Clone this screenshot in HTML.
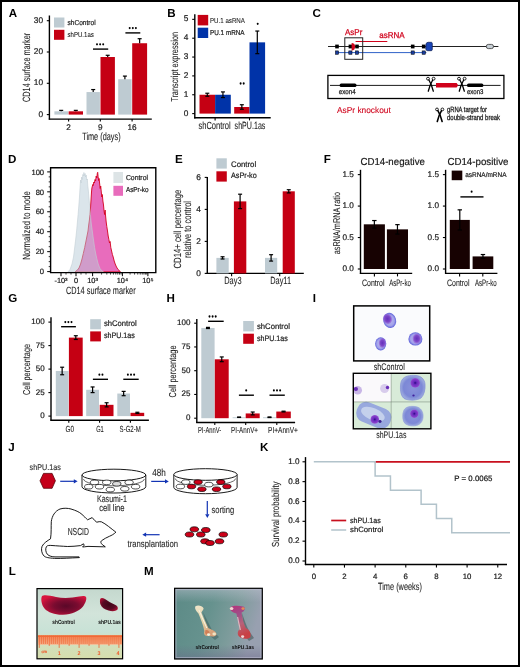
<!DOCTYPE html>
<html><head><meta charset="utf-8"><title>Figure</title>
<style>html,body{margin:0;padding:0;background:#fff;overflow:hidden;}svg{display:block;will-change:transform;}text{text-rendering:geometricPrecision;}</style>
</head><body>
<svg width="520" height="667" viewBox="0 0 520 667" font-family='"Liberation Sans", sans-serif'>
<rect x="0.00" y="0.00" width="520.00" height="667.00" fill="#fff"/>
<text x="8.71" y="16.50" font-size="11.6" fill="#000" font-weight="bold">A</text>
<line x1="49.40" y1="15.50" x2="49.40" y2="119.70" stroke="#000" stroke-width="1.4"/>
<line x1="48.80" y1="119.10" x2="151.80" y2="119.10" stroke="#000" stroke-width="1.4"/>
<line x1="46.80" y1="114.60" x2="49.40" y2="114.60" stroke="#000" stroke-width="1.1"/>
<text x="43.00" y="116.70" font-size="8.3" text-anchor="end" fill="#1a1a1a" stroke="#1a1a1a" stroke-width="0.2">0</text>
<line x1="46.80" y1="83.30" x2="49.40" y2="83.30" stroke="#000" stroke-width="1.1"/>
<text x="43.00" y="85.41" font-size="8.3" text-anchor="end" fill="#1a1a1a" stroke="#1a1a1a" stroke-width="0.2">10</text>
<line x1="46.80" y1="52.00" x2="49.40" y2="52.00" stroke="#000" stroke-width="1.1"/>
<text x="43.00" y="54.11" font-size="8.3" text-anchor="end" fill="#1a1a1a" stroke="#1a1a1a" stroke-width="0.2">20</text>
<line x1="46.80" y1="20.70" x2="49.40" y2="20.70" stroke="#000" stroke-width="1.1"/>
<text x="43.00" y="22.81" font-size="8.3" text-anchor="end" fill="#1a1a1a" stroke="#1a1a1a" stroke-width="0.2">30</text>
<line x1="68.60" y1="119.10" x2="68.60" y2="121.50" stroke="#000" stroke-width="1.1"/>
<text x="68.60" y="129.60" font-size="8.2" text-anchor="middle" fill="#1a1a1a" stroke="#1a1a1a" stroke-width="0.2">2</text>
<line x1="100.30" y1="119.10" x2="100.30" y2="121.50" stroke="#000" stroke-width="1.1"/>
<text x="100.30" y="129.60" font-size="8.2" text-anchor="middle" fill="#1a1a1a" stroke="#1a1a1a" stroke-width="0.2">9</text>
<line x1="132.10" y1="119.10" x2="132.10" y2="121.50" stroke="#000" stroke-width="1.1"/>
<text x="132.10" y="129.60" font-size="8.2" text-anchor="middle" fill="#1a1a1a" stroke="#1a1a1a" stroke-width="0.2">16</text>
<text x="101.40" y="139.60" font-size="10.5" text-anchor="middle" fill="#222" stroke="#222" stroke-width="0.08" textLength="38.4" lengthAdjust="spacingAndGlyphs">Time (days)</text>
<text x="30.00" y="101.90" font-size="10.5" fill="#222" stroke="#222" stroke-width="0.08" textLength="69" lengthAdjust="spacingAndGlyphs" transform="rotate(-90 30.00 101.90)">CD14 surface marker</text>
<rect x="54.40" y="111.31" width="13.60" height="3.29" fill="#BECBD2"/>
<line x1="61.20" y1="111.31" x2="61.20" y2="110.37" stroke="#000" stroke-width="1.2"/>
<line x1="59.20" y1="110.37" x2="63.20" y2="110.37" stroke="#000" stroke-width="1.2"/>
<rect x="68.60" y="111.31" width="14.40" height="3.29" fill="#C50013"/>
<line x1="75.80" y1="111.31" x2="75.80" y2="110.37" stroke="#000" stroke-width="1.2"/>
<line x1="73.80" y1="110.37" x2="77.80" y2="110.37" stroke="#000" stroke-width="1.2"/>
<rect x="86.50" y="92.06" width="13.40" height="22.54" fill="#BECBD2"/>
<line x1="93.20" y1="92.06" x2="93.20" y2="89.56" stroke="#000" stroke-width="1.2"/>
<line x1="91.20" y1="89.56" x2="95.20" y2="89.56" stroke="#000" stroke-width="1.2"/>
<rect x="100.50" y="57.01" width="14.40" height="57.59" fill="#C50013"/>
<line x1="107.70" y1="57.01" x2="107.70" y2="55.29" stroke="#000" stroke-width="1.2"/>
<line x1="105.70" y1="55.29" x2="109.70" y2="55.29" stroke="#000" stroke-width="1.2"/>
<rect x="118.20" y="79.23" width="13.40" height="35.37" fill="#BECBD2"/>
<line x1="124.90" y1="79.23" x2="124.90" y2="76.10" stroke="#000" stroke-width="1.2"/>
<line x1="122.90" y1="76.10" x2="126.90" y2="76.10" stroke="#000" stroke-width="1.2"/>
<rect x="132.20" y="43.24" width="14.90" height="71.36" fill="#C50013"/>
<line x1="139.65" y1="43.24" x2="139.65" y2="38.70" stroke="#000" stroke-width="1.2"/>
<line x1="137.65" y1="38.70" x2="141.65" y2="38.70" stroke="#000" stroke-width="1.2"/>
<rect x="54.00" y="17.50" width="10.40" height="10.00" fill="#BECBD2"/>
<rect x="54.00" y="29.80" width="10.40" height="10.00" fill="#C50013"/>
<text x="67.50" y="24.70" font-size="7.2" fill="#1a1a1a" stroke="#1a1a1a" stroke-width="0.2" textLength="28.1" lengthAdjust="spacingAndGlyphs">shControl</text>
<text x="67.50" y="37.30" font-size="7.2" fill="#1a1a1a" stroke="#1a1a1a" stroke-width="0.08" textLength="26.3" lengthAdjust="spacingAndGlyphs">shPU.1as</text>
<line x1="93.00" y1="49.10" x2="108.20" y2="49.10" stroke="#000" stroke-width="1.4"/>
<ellipse cx="97.00" cy="44.30" rx="1.0" ry="1.15" fill="#000"/>
<ellipse cx="100.10" cy="44.30" rx="1.0" ry="1.15" fill="#000"/>
<ellipse cx="103.20" cy="44.30" rx="1.0" ry="1.15" fill="#000"/>
<line x1="125.40" y1="32.90" x2="140.30" y2="32.90" stroke="#000" stroke-width="1.4"/>
<ellipse cx="129.70" cy="28.10" rx="1.0" ry="1.15" fill="#000"/>
<ellipse cx="132.80" cy="28.10" rx="1.0" ry="1.15" fill="#000"/>
<ellipse cx="135.90" cy="28.10" rx="1.0" ry="1.15" fill="#000"/>
<text x="167.35" y="16.50" font-size="11.6" fill="#000" font-weight="bold">B</text>
<line x1="194.80" y1="14.20" x2="194.80" y2="118.40" stroke="#000" stroke-width="1.4"/>
<line x1="194.20" y1="117.80" x2="270.70" y2="117.80" stroke="#000" stroke-width="1.4"/>
<line x1="192.20" y1="113.60" x2="194.80" y2="113.60" stroke="#000" stroke-width="1.1"/>
<text x="188.40" y="115.70" font-size="8.3" text-anchor="end" fill="#1a1a1a" stroke="#1a1a1a" stroke-width="0.2">0</text>
<line x1="192.20" y1="94.75" x2="194.80" y2="94.75" stroke="#000" stroke-width="1.1"/>
<text x="188.40" y="96.86" font-size="8.3" text-anchor="end" fill="#1a1a1a" stroke="#1a1a1a" stroke-width="0.2">1</text>
<line x1="192.20" y1="75.90" x2="194.80" y2="75.90" stroke="#000" stroke-width="1.1"/>
<text x="188.40" y="78.00" font-size="8.3" text-anchor="end" fill="#1a1a1a" stroke="#1a1a1a" stroke-width="0.2">2</text>
<line x1="192.20" y1="57.05" x2="194.80" y2="57.05" stroke="#000" stroke-width="1.1"/>
<text x="188.40" y="59.15" font-size="8.3" text-anchor="end" fill="#1a1a1a" stroke="#1a1a1a" stroke-width="0.2">3</text>
<line x1="192.20" y1="38.20" x2="194.80" y2="38.20" stroke="#000" stroke-width="1.1"/>
<text x="188.40" y="40.30" font-size="8.3" text-anchor="end" fill="#1a1a1a" stroke="#1a1a1a" stroke-width="0.2">4</text>
<line x1="192.20" y1="19.35" x2="194.80" y2="19.35" stroke="#000" stroke-width="1.1"/>
<text x="188.40" y="21.45" font-size="8.3" text-anchor="end" fill="#1a1a1a" stroke="#1a1a1a" stroke-width="0.2">5</text>
<line x1="215.10" y1="117.80" x2="215.10" y2="120.40" stroke="#000" stroke-width="1.1"/>
<line x1="249.50" y1="117.80" x2="249.50" y2="120.40" stroke="#000" stroke-width="1.1"/>
<text x="214.60" y="128.90" font-size="10.4" text-anchor="middle" fill="#222" stroke="#222" stroke-width="0.08" textLength="32.3" lengthAdjust="spacingAndGlyphs">shControl</text>
<text x="250.00" y="128.90" font-size="10.4" text-anchor="middle" fill="#222" stroke="#222" stroke-width="0.08" textLength="30.8" lengthAdjust="spacingAndGlyphs">shPU.1as</text>
<text x="178.20" y="101.80" font-size="10.0" fill="#222" stroke="#222" stroke-width="0.08" textLength="69.9" lengthAdjust="spacingAndGlyphs" transform="rotate(-90 178.20 101.80)">Transcript expression</text>
<rect x="199.50" y="94.75" width="15.60" height="18.85" fill="#C50013"/>
<line x1="207.30" y1="96.26" x2="207.30" y2="93.24" stroke="#000" stroke-width="1.2"/>
<line x1="205.30" y1="96.26" x2="209.30" y2="96.26" stroke="#000" stroke-width="1.2"/>
<line x1="205.30" y1="93.24" x2="209.30" y2="93.24" stroke="#000" stroke-width="1.2"/>
<rect x="215.10" y="94.75" width="15.70" height="18.85" fill="#0033A8"/>
<line x1="222.95" y1="97.58" x2="222.95" y2="91.92" stroke="#000" stroke-width="1.2"/>
<line x1="220.95" y1="97.58" x2="224.95" y2="97.58" stroke="#000" stroke-width="1.2"/>
<line x1="220.95" y1="91.92" x2="224.95" y2="91.92" stroke="#000" stroke-width="1.2"/>
<rect x="234.20" y="107.00" width="15.30" height="6.60" fill="#C50013"/>
<line x1="241.85" y1="109.26" x2="241.85" y2="104.74" stroke="#000" stroke-width="1.2"/>
<line x1="239.85" y1="109.26" x2="243.85" y2="109.26" stroke="#000" stroke-width="1.2"/>
<line x1="239.85" y1="104.74" x2="243.85" y2="104.74" stroke="#000" stroke-width="1.2"/>
<rect x="249.50" y="42.35" width="15.60" height="71.25" fill="#0033A8"/>
<line x1="257.30" y1="53.66" x2="257.30" y2="31.04" stroke="#000" stroke-width="1.2"/>
<line x1="255.30" y1="53.66" x2="259.30" y2="53.66" stroke="#000" stroke-width="1.2"/>
<line x1="255.30" y1="31.04" x2="259.30" y2="31.04" stroke="#000" stroke-width="1.2"/>
<rect x="197.70" y="14.90" width="10.50" height="10.50" fill="#C50013"/>
<rect x="197.70" y="27.70" width="10.50" height="10.30" fill="#0033A8"/>
<text x="210.00" y="22.60" font-size="7.2" fill="#1a1a1a" stroke="#1a1a1a" stroke-width="0.08" textLength="34.9" lengthAdjust="spacingAndGlyphs">PU.1 asRNA</text>
<text x="210.00" y="35.40" font-size="7.2" fill="#1a1a1a" stroke="#1a1a1a" stroke-width="0.2" textLength="34.6" lengthAdjust="spacingAndGlyphs">PU.1 mRNA</text>
<ellipse cx="240.60" cy="83.50" rx="1.0" ry="1.15" fill="#000"/>
<ellipse cx="243.70" cy="83.50" rx="1.0" ry="1.15" fill="#000"/>
<ellipse cx="257.70" cy="23.80" rx="1.0" ry="1.15" fill="#000"/>
<text x="312.44" y="16.60" font-size="11.6" fill="#000" font-weight="bold">C</text>
<line x1="328.00" y1="46.50" x2="498.40" y2="46.50" stroke="#222" stroke-width="1.0"/>
<line x1="337.00" y1="52.60" x2="426.40" y2="52.60" stroke="#2F62C8" stroke-width="1.0"/>
<rect x="335.20" y="44.60" width="3.60" height="3.80" fill="#000"/>
<rect x="335.40" y="50.90" width="3.20" height="3.40" fill="#1A3C9C" stroke="#000" stroke-width="0.5"/>
<rect x="348.60" y="44.60" width="3.60" height="3.80" fill="#000"/>
<rect x="348.80" y="50.90" width="3.20" height="3.40" fill="#1A3C9C" stroke="#000" stroke-width="0.5"/>
<rect x="355.20" y="44.60" width="3.60" height="3.80" fill="#000"/>
<rect x="355.40" y="50.90" width="3.20" height="3.40" fill="#1A3C9C" stroke="#000" stroke-width="0.5"/>
<rect x="410.90" y="44.60" width="3.60" height="3.80" fill="#000"/>
<rect x="411.10" y="50.90" width="3.20" height="3.40" fill="#1A3C9C" stroke="#000" stroke-width="0.5"/>
<rect x="421.90" y="44.60" width="3.60" height="3.80" fill="#000"/>
<rect x="422.10" y="50.90" width="3.20" height="3.40" fill="#1A3C9C" stroke="#000" stroke-width="0.5"/>
<path d="M426.0,44.0 Q426.3,42.4 428.2,42.3 L431.4,42.3 Q432.3,42.4 432.3,43.6 L432.3,49.6 Q432.2,50.7 431.2,50.7 L427.6,50.7 Q426,50.6 425.8,49.0 Z" fill="#1A45B8" stroke="#0A1A50" stroke-width="0.7"/>
<rect x="486.30" y="44.40" width="7.20" height="4.20" fill="#C8D0D6" stroke="#333" stroke-width="0.8" rx="2"/>
<path d="M351.6,43.0 A3.5,3.7 0 0 1 351.6,50.4 Z" fill="#D0021B"/>
<line x1="355.60" y1="41.50" x2="387.30" y2="41.50" stroke="#D0021B" stroke-width="1.1"/>
<rect x="344.80" y="37.80" width="17.90" height="21.50" fill="none" stroke="#222" stroke-width="1.0"/>
<text x="345.00" y="35.20" font-size="8.4" fill="#D0021B" textLength="17.3" lengthAdjust="spacingAndGlyphs" stroke="#D0021B" stroke-width="0.25">AsPr</text>
<text x="379.20" y="37.80" font-size="8.4" fill="#D0021B" textLength="25.4" lengthAdjust="spacingAndGlyphs" stroke="#D0021B" stroke-width="0.25">asRNA</text>
<rect x="327.90" y="75.40" width="176.00" height="23.10" fill="none" stroke="#000" stroke-width="1.3"/>
<line x1="330.00" y1="85.40" x2="500.60" y2="85.40" stroke="#000" stroke-width="0.9"/>
<rect x="339.60" y="83.60" width="16.90" height="3.50" fill="#000" rx="1.6"/>
<rect x="467.00" y="83.60" width="16.40" height="3.50" fill="#000" rx="1.6"/>
<path d="M436,82.9 L456.6,82.9 L458.2,85.25 L456.6,87.6 L436,87.6 Z" fill="#D0021B"/>
<ellipse cx="428.00" cy="78.70" rx="1.45" ry="1.45" fill="#fff" stroke="#000" stroke-width="0.85"/>
<ellipse cx="433.60" cy="78.70" rx="1.45" ry="1.45" fill="#fff" stroke="#000" stroke-width="0.85"/>
<path d="M428.90,80.00 Q431.40,84.00 433.30,91.20" fill="none" stroke="#000" stroke-width="1.35" stroke-linecap="round"/>
<path d="M432.70,80.00 Q430.20,84.00 428.30,91.20" fill="none" stroke="#000" stroke-width="1.35" stroke-linecap="round"/>
<ellipse cx="459.00" cy="78.70" rx="1.45" ry="1.45" fill="#fff" stroke="#000" stroke-width="0.85"/>
<ellipse cx="464.60" cy="78.70" rx="1.45" ry="1.45" fill="#fff" stroke="#000" stroke-width="0.85"/>
<path d="M459.90,80.00 Q462.40,84.00 464.30,91.20" fill="none" stroke="#000" stroke-width="1.35" stroke-linecap="round"/>
<path d="M463.70,80.00 Q461.20,84.00 459.30,91.20" fill="none" stroke="#000" stroke-width="1.35" stroke-linecap="round"/>
<text x="338.80" y="93.60" font-size="7.0" fill="#222" textLength="16.8" lengthAdjust="spacingAndGlyphs" stroke="#222" stroke-width="0.25">exon4</text>
<text x="466.90" y="93.60" font-size="7.0" fill="#222" textLength="16.5" lengthAdjust="spacingAndGlyphs" stroke="#222" stroke-width="0.25">exon3</text>
<text x="337.00" y="113.00" font-size="8.5" fill="#D0021B" textLength="53.8" lengthAdjust="spacingAndGlyphs" stroke="#D0021B" stroke-width="0.1">AsPr knockout</text>
<ellipse cx="437.00" cy="109.44" rx="1.40" ry="1.40" fill="#fff" stroke="#000" stroke-width="0.85"/>
<ellipse cx="442.40" cy="109.44" rx="1.40" ry="1.40" fill="#fff" stroke="#000" stroke-width="0.85"/>
<path d="M437.87,110.69 Q440.28,114.55 442.11,121.50" fill="none" stroke="#000" stroke-width="1.6" stroke-linecap="round"/>
<path d="M441.53,110.69 Q439.12,114.55 437.29,121.50" fill="none" stroke="#000" stroke-width="1.6" stroke-linecap="round"/>
<text x="447.00" y="111.80" font-size="7.6" fill="#222" textLength="40" lengthAdjust="spacingAndGlyphs" stroke="#222" stroke-width="0.3">gRNA target for</text>
<text x="447.00" y="120.30" font-size="7.6" fill="#222" textLength="53" lengthAdjust="spacingAndGlyphs" stroke="#222" stroke-width="0.3">double-strand break</text>
<text x="8.05" y="162.50" font-size="11.6" fill="#000" font-weight="bold">D</text>
<path d="M75.00,271.80 L77.00,270.50 L79.00,268.00 L80.60,264.00 L82.00,259.00 L83.30,253.50 L84.70,247.50 L86.00,241.00 L87.00,236.00 L88.00,231.00 L88.70,225.00 L89.40,220.00 L90.00,214.50 L90.50,208.00 L90.90,202.00 L91.20,197.00 L91.50,192.00 L91.90,188.00 L92.40,186.00 L92.80,184.50 L93.30,185.50 L93.80,182.00 L94.40,183.00 L95.00,179.50 L95.60,181.00 L96.20,176.00 L96.80,178.00 L97.30,173.50 L97.70,172.30 L98.10,176.50 L98.60,180.50 L99.10,178.50 L99.70,184.00 L100.20,188.50 L100.70,186.00 L101.30,192.00 L101.80,197.00 L102.30,194.50 L102.90,201.00 L103.50,205.00 L104.00,210.50 L104.60,214.50 L105.10,210.00 L105.60,216.00 L106.20,222.00 L106.80,226.50 L107.50,231.00 L108.20,236.00 L108.90,239.50 L109.50,243.00 L110.10,241.50 L110.80,247.50 L111.60,251.00 L112.40,254.50 L113.20,257.00 L114.20,261.00 L115.20,264.00 L116.50,267.00 L118.00,269.50 L120.50,271.80 Z" fill="#E86CBC" stroke="#D4001E" stroke-width="0.9" stroke-linejoin="round"/>
<path d="M68.00,271.80 L70.00,269.50 L72.00,264.00 L73.50,257.00 L74.50,249.00 L75.60,240.00 L76.60,231.00 L77.40,222.00 L78.10,214.50 L78.80,206.00 L79.40,198.00 L79.90,190.00 L80.30,184.00 L80.60,180.00 L81.20,183.00 L81.60,177.00 L82.30,179.50 L82.80,174.50 L83.40,176.00 L83.90,172.50 L84.50,175.50 L85.10,173.50 L85.60,177.00 L86.20,175.00 L86.80,180.00 L87.30,179.00 L87.80,186.00 L88.30,190.00 L88.80,196.00 L89.30,202.00 L89.80,208.00 L90.40,214.50 L91.00,221.00 L91.60,226.00 L92.30,231.00 L93.10,237.00 L93.80,242.00 L94.60,247.50 L95.60,253.00 L96.80,258.50 L98.20,264.00 L100.00,268.50 L102.00,271.00 L103.50,271.80 Z" fill="#B8CCD8" fill-opacity="0.5"/>
<path d="M68.00,271.80 L70.00,269.50 L72.00,264.00 L73.50,257.00 L74.50,249.00 L75.60,240.00 L76.60,231.00 L77.40,222.00 L78.10,214.50 L78.80,206.00 L79.40,198.00 L79.90,190.00 L80.30,184.00 L80.60,180.00 L81.20,183.00 L81.60,177.00 L82.30,179.50 L82.80,174.50 L83.40,176.00 L83.90,172.50 L84.50,175.50 L85.10,173.50 L85.60,177.00 L86.20,175.00 L86.80,180.00 L87.30,179.00 L87.80,186.00 L88.30,190.00 L88.80,196.00 L89.30,202.00 L89.80,208.00 L90.40,214.50 L91.00,221.00 L91.60,226.00 L92.30,231.00 L93.10,237.00 L93.80,242.00 L94.60,247.50 L95.60,253.00 L96.80,258.50 L98.20,264.00 L100.00,268.50 L102.00,271.00 L103.50,271.80 Z" fill="none" stroke="#C2CFD5" stroke-width="0.6"/>
<path d="M50.6,167.8 L155.8,167.8 L155.8,272.6 L50.6,272.6 Z" fill="none" stroke="#000" stroke-width="1.4"/>
<line x1="47.20" y1="271.60" x2="50.60" y2="271.60" stroke="#000" stroke-width="1.0"/>
<text x="44.10" y="274.30" font-size="7.6" text-anchor="end" fill="#1a1a1a" stroke="#1a1a1a" stroke-width="0.2">0</text>
<line x1="48.70" y1="266.62" x2="50.60" y2="266.62" stroke="#000" stroke-width="0.8"/>
<line x1="48.70" y1="261.63" x2="50.60" y2="261.63" stroke="#000" stroke-width="0.8"/>
<line x1="48.70" y1="256.65" x2="50.60" y2="256.65" stroke="#000" stroke-width="0.8"/>
<line x1="47.20" y1="251.66" x2="50.60" y2="251.66" stroke="#000" stroke-width="1.0"/>
<text x="44.10" y="254.36" font-size="7.6" text-anchor="end" fill="#1a1a1a" stroke="#1a1a1a" stroke-width="0.2">20</text>
<line x1="48.70" y1="246.68" x2="50.60" y2="246.68" stroke="#000" stroke-width="0.8"/>
<line x1="48.70" y1="241.69" x2="50.60" y2="241.69" stroke="#000" stroke-width="0.8"/>
<line x1="48.70" y1="236.71" x2="50.60" y2="236.71" stroke="#000" stroke-width="0.8"/>
<line x1="47.20" y1="231.72" x2="50.60" y2="231.72" stroke="#000" stroke-width="1.0"/>
<text x="44.10" y="234.42" font-size="7.6" text-anchor="end" fill="#1a1a1a" stroke="#1a1a1a" stroke-width="0.2">40</text>
<line x1="48.70" y1="226.74" x2="50.60" y2="226.74" stroke="#000" stroke-width="0.8"/>
<line x1="48.70" y1="221.75" x2="50.60" y2="221.75" stroke="#000" stroke-width="0.8"/>
<line x1="48.70" y1="216.77" x2="50.60" y2="216.77" stroke="#000" stroke-width="0.8"/>
<line x1="47.20" y1="211.78" x2="50.60" y2="211.78" stroke="#000" stroke-width="1.0"/>
<text x="44.10" y="214.48" font-size="7.6" text-anchor="end" fill="#1a1a1a" stroke="#1a1a1a" stroke-width="0.2">60</text>
<line x1="48.70" y1="206.80" x2="50.60" y2="206.80" stroke="#000" stroke-width="0.8"/>
<line x1="48.70" y1="201.81" x2="50.60" y2="201.81" stroke="#000" stroke-width="0.8"/>
<line x1="48.70" y1="196.83" x2="50.60" y2="196.83" stroke="#000" stroke-width="0.8"/>
<line x1="47.20" y1="191.84" x2="50.60" y2="191.84" stroke="#000" stroke-width="1.0"/>
<text x="44.10" y="194.54" font-size="7.6" text-anchor="end" fill="#1a1a1a" stroke="#1a1a1a" stroke-width="0.2">80</text>
<line x1="48.70" y1="186.86" x2="50.60" y2="186.86" stroke="#000" stroke-width="0.8"/>
<line x1="48.70" y1="181.87" x2="50.60" y2="181.87" stroke="#000" stroke-width="0.8"/>
<line x1="48.70" y1="176.89" x2="50.60" y2="176.89" stroke="#000" stroke-width="0.8"/>
<line x1="47.20" y1="171.90" x2="50.60" y2="171.90" stroke="#000" stroke-width="1.0"/>
<text x="44.10" y="174.60" font-size="7.6" text-anchor="end" fill="#1a1a1a" stroke="#1a1a1a" stroke-width="0.2">100</text>
<line x1="61.00" y1="272.60" x2="61.00" y2="276.20" stroke="#000" stroke-width="1.0"/>
<line x1="76.00" y1="272.60" x2="76.00" y2="276.20" stroke="#000" stroke-width="1.0"/>
<line x1="92.60" y1="272.60" x2="92.60" y2="276.20" stroke="#000" stroke-width="1.0"/>
<line x1="122.40" y1="272.60" x2="122.40" y2="276.20" stroke="#000" stroke-width="1.0"/>
<line x1="147.90" y1="272.60" x2="147.90" y2="276.20" stroke="#000" stroke-width="1.0"/>
<line x1="101.57" y1="272.60" x2="101.57" y2="274.60" stroke="#000" stroke-width="0.7"/>
<line x1="106.82" y1="272.60" x2="106.82" y2="274.60" stroke="#000" stroke-width="0.7"/>
<line x1="110.54" y1="272.60" x2="110.54" y2="274.60" stroke="#000" stroke-width="0.7"/>
<line x1="113.43" y1="272.60" x2="113.43" y2="274.60" stroke="#000" stroke-width="0.7"/>
<line x1="115.79" y1="272.60" x2="115.79" y2="274.60" stroke="#000" stroke-width="0.7"/>
<line x1="117.78" y1="272.60" x2="117.78" y2="274.60" stroke="#000" stroke-width="0.7"/>
<line x1="119.51" y1="272.60" x2="119.51" y2="274.60" stroke="#000" stroke-width="0.7"/>
<line x1="121.04" y1="272.60" x2="121.04" y2="274.60" stroke="#000" stroke-width="0.7"/>
<line x1="130.08" y1="272.60" x2="130.08" y2="274.60" stroke="#000" stroke-width="0.7"/>
<line x1="134.57" y1="272.60" x2="134.57" y2="274.60" stroke="#000" stroke-width="0.7"/>
<line x1="137.75" y1="272.60" x2="137.75" y2="274.60" stroke="#000" stroke-width="0.7"/>
<line x1="140.22" y1="272.60" x2="140.22" y2="274.60" stroke="#000" stroke-width="0.7"/>
<line x1="142.24" y1="272.60" x2="142.24" y2="274.60" stroke="#000" stroke-width="0.7"/>
<line x1="143.95" y1="272.60" x2="143.95" y2="274.60" stroke="#000" stroke-width="0.7"/>
<line x1="145.43" y1="272.60" x2="145.43" y2="274.60" stroke="#000" stroke-width="0.7"/>
<line x1="146.73" y1="272.60" x2="146.73" y2="274.60" stroke="#000" stroke-width="0.7"/>
<line x1="66.00" y1="272.60" x2="66.00" y2="274.60" stroke="#000" stroke-width="0.7"/>
<line x1="71.00" y1="272.60" x2="71.00" y2="274.60" stroke="#000" stroke-width="0.7"/>
<line x1="81.00" y1="272.60" x2="81.00" y2="274.60" stroke="#000" stroke-width="0.7"/>
<line x1="86.00" y1="272.60" x2="86.00" y2="274.60" stroke="#000" stroke-width="0.7"/>
<text x="61.00" y="282.80" font-size="7.4" text-anchor="middle" fill="#1a1a1a" stroke="#1a1a1a" stroke-width="0.2">-10³</text>
<text x="76.00" y="282.80" font-size="7.4" text-anchor="middle" fill="#1a1a1a" stroke="#1a1a1a" stroke-width="0.2">0</text>
<text x="92.60" y="282.80" font-size="7.4" text-anchor="middle" fill="#1a1a1a" stroke="#1a1a1a" stroke-width="0.2">10³</text>
<text x="122.40" y="282.80" font-size="7.4" text-anchor="middle" fill="#1a1a1a" stroke="#1a1a1a" stroke-width="0.2">10⁴</text>
<text x="147.90" y="282.80" font-size="7.4" text-anchor="middle" fill="#1a1a1a" stroke="#1a1a1a" stroke-width="0.2">10⁵</text>
<text x="100.80" y="293.60" font-size="10.5" text-anchor="middle" fill="#222" stroke="#222" stroke-width="0.08" textLength="69.7" lengthAdjust="spacingAndGlyphs">CD14 surface marker</text>
<text x="30.00" y="259.80" font-size="10.4" fill="#222" stroke="#222" stroke-width="0.08" textLength="68.5" lengthAdjust="spacingAndGlyphs" transform="rotate(-90 30.00 259.80)">Normalized to mode</text>
<rect x="113.40" y="172.00" width="9.60" height="11.00" fill="#DDE4E6"/>
<rect x="113.40" y="185.80" width="9.60" height="10.00" fill="#E86CBC"/>
<text x="125.90" y="180.30" font-size="7.2" fill="#1a1a1a" stroke="#1a1a1a" stroke-width="0.2" textLength="22.1" lengthAdjust="spacingAndGlyphs">Control</text>
<text x="125.90" y="192.00" font-size="7.2" fill="#1a1a1a" stroke="#1a1a1a" stroke-width="0.2" textLength="22.6" lengthAdjust="spacingAndGlyphs">AsPr-ko</text>
<text x="174.95" y="162.80" font-size="11.6" fill="#000" font-weight="bold">E</text>
<line x1="207.30" y1="177.00" x2="207.30" y2="274.00" stroke="#000" stroke-width="1.4"/>
<line x1="206.70" y1="273.40" x2="303.80" y2="273.40" stroke="#000" stroke-width="1.4"/>
<line x1="204.70" y1="273.40" x2="207.30" y2="273.40" stroke="#000" stroke-width="1.1"/>
<text x="200.90" y="275.50" font-size="8.3" text-anchor="end" fill="#1a1a1a" stroke="#1a1a1a" stroke-width="0.2">0</text>
<line x1="204.70" y1="241.40" x2="207.30" y2="241.40" stroke="#000" stroke-width="1.1"/>
<text x="200.90" y="243.50" font-size="8.3" text-anchor="end" fill="#1a1a1a" stroke="#1a1a1a" stroke-width="0.2">2</text>
<line x1="204.70" y1="209.40" x2="207.30" y2="209.40" stroke="#000" stroke-width="1.1"/>
<text x="200.90" y="211.50" font-size="8.3" text-anchor="end" fill="#1a1a1a" stroke="#1a1a1a" stroke-width="0.2">4</text>
<line x1="204.70" y1="177.40" x2="207.30" y2="177.40" stroke="#000" stroke-width="1.1"/>
<text x="200.90" y="179.50" font-size="8.3" text-anchor="end" fill="#1a1a1a" stroke="#1a1a1a" stroke-width="0.2">6</text>
<line x1="231.60" y1="273.40" x2="231.60" y2="276.20" stroke="#000" stroke-width="1.1"/>
<line x1="279.70" y1="273.40" x2="279.70" y2="276.20" stroke="#000" stroke-width="1.1"/>
<text x="232.90" y="284.10" font-size="10.4" text-anchor="middle" fill="#222" stroke="#222" stroke-width="0.08" textLength="17.3" lengthAdjust="spacingAndGlyphs">Day3</text>
<text x="280.60" y="284.10" font-size="10.4" text-anchor="middle" fill="#222" stroke="#222" stroke-width="0.08" textLength="20.8" lengthAdjust="spacingAndGlyphs">Day11</text>
<text x="180.50" y="268.50" font-size="10.4" fill="#222" stroke="#222" stroke-width="0.08" textLength="78.8" lengthAdjust="spacingAndGlyphs" transform="rotate(-90 180.50 268.50)">CD14+ cell percentage</text>
<text x="190.70" y="258.00" font-size="10.4" fill="#222" stroke="#222" stroke-width="0.08" textLength="57" lengthAdjust="spacingAndGlyphs" transform="rotate(-90 190.70 258.00)">relative to control</text>
<rect x="216.40" y="257.88" width="12.30" height="15.52" fill="#BECBD2"/>
<line x1="222.55" y1="259.00" x2="222.55" y2="256.76" stroke="#000" stroke-width="1.2"/>
<line x1="220.55" y1="259.00" x2="224.55" y2="259.00" stroke="#000" stroke-width="1.2"/>
<line x1="220.55" y1="256.76" x2="224.55" y2="256.76" stroke="#000" stroke-width="1.2"/>
<rect x="233.90" y="201.40" width="12.40" height="72.00" fill="#C50013"/>
<line x1="240.10" y1="208.60" x2="240.10" y2="194.20" stroke="#000" stroke-width="1.2"/>
<line x1="238.10" y1="208.60" x2="242.10" y2="208.60" stroke="#000" stroke-width="1.2"/>
<line x1="238.10" y1="194.20" x2="242.10" y2="194.20" stroke="#000" stroke-width="1.2"/>
<rect x="265.00" y="257.88" width="12.20" height="15.52" fill="#BECBD2"/>
<line x1="271.10" y1="261.08" x2="271.10" y2="254.68" stroke="#000" stroke-width="1.2"/>
<line x1="269.10" y1="261.08" x2="273.10" y2="261.08" stroke="#000" stroke-width="1.2"/>
<line x1="269.10" y1="254.68" x2="273.10" y2="254.68" stroke="#000" stroke-width="1.2"/>
<rect x="282.70" y="191.32" width="12.10" height="82.08" fill="#C50013"/>
<line x1="288.75" y1="192.92" x2="288.75" y2="189.72" stroke="#000" stroke-width="1.2"/>
<line x1="286.75" y1="192.92" x2="290.75" y2="192.92" stroke="#000" stroke-width="1.2"/>
<line x1="286.75" y1="189.72" x2="290.75" y2="189.72" stroke="#000" stroke-width="1.2"/>
<rect x="216.40" y="158.30" width="10.40" height="10.30" fill="#BECBD2"/>
<rect x="216.40" y="171.30" width="10.40" height="10.30" fill="#C50013"/>
<text x="231.00" y="166.50" font-size="8.0" fill="#1a1a1a" stroke="#1a1a1a" stroke-width="0.2" textLength="25.2" lengthAdjust="spacingAndGlyphs">Control</text>
<text x="231.00" y="177.90" font-size="8.0" fill="#1a1a1a" stroke="#1a1a1a" stroke-width="0.2" textLength="25.7" lengthAdjust="spacingAndGlyphs">AsPr-ko</text>
<text x="323.75" y="162.80" font-size="11.6" fill="#000" font-weight="bold">F</text>
<line x1="360.50" y1="169.80" x2="360.50" y2="274.00" stroke="#000" stroke-width="1.4"/>
<line x1="359.90" y1="273.40" x2="412.20" y2="273.40" stroke="#000" stroke-width="1.4"/>
<line x1="357.80" y1="269.00" x2="360.50" y2="269.00" stroke="#000" stroke-width="1.1"/>
<text x="353.90" y="271.07" font-size="8.2" text-anchor="end" fill="#1a1a1a" stroke="#1a1a1a" stroke-width="0.2">0.0</text>
<line x1="357.80" y1="237.53" x2="360.50" y2="237.53" stroke="#000" stroke-width="1.1"/>
<text x="353.90" y="239.60" font-size="8.2" text-anchor="end" fill="#1a1a1a" stroke="#1a1a1a" stroke-width="0.2">0.5</text>
<line x1="357.80" y1="206.07" x2="360.50" y2="206.07" stroke="#000" stroke-width="1.1"/>
<text x="353.90" y="208.14" font-size="8.2" text-anchor="end" fill="#1a1a1a" stroke="#1a1a1a" stroke-width="0.2">1.0</text>
<line x1="357.80" y1="174.61" x2="360.50" y2="174.61" stroke="#000" stroke-width="1.1"/>
<text x="353.90" y="176.68" font-size="8.2" text-anchor="end" fill="#1a1a1a" stroke="#1a1a1a" stroke-width="0.2">1.5</text>
<line x1="374.40" y1="273.40" x2="374.40" y2="276.40" stroke="#000" stroke-width="1.1"/>
<line x1="397.50" y1="273.40" x2="397.50" y2="276.40" stroke="#000" stroke-width="1.1"/>
<text x="373.30" y="285.60" font-size="9.4" text-anchor="middle" fill="#222" stroke="#222" stroke-width="0.08" textLength="22.4" lengthAdjust="spacingAndGlyphs">Control</text>
<text x="400.00" y="285.60" font-size="9.4" text-anchor="middle" fill="#222" stroke="#222" stroke-width="0.08" textLength="21.7" lengthAdjust="spacingAndGlyphs">AsPr-ko</text>
<rect x="363.80" y="224.32" width="21.10" height="44.68" fill="#170202"/>
<line x1="374.35" y1="228.10" x2="374.35" y2="220.54" stroke="#000" stroke-width="1.2"/>
<line x1="372.15" y1="228.10" x2="376.55" y2="228.10" stroke="#000" stroke-width="1.2"/>
<line x1="372.15" y1="220.54" x2="376.55" y2="220.54" stroke="#000" stroke-width="1.2"/>
<rect x="386.90" y="229.35" width="21.10" height="39.65" fill="#170202"/>
<line x1="397.45" y1="234.07" x2="397.45" y2="224.63" stroke="#000" stroke-width="1.2"/>
<line x1="395.25" y1="234.07" x2="399.65" y2="234.07" stroke="#000" stroke-width="1.2"/>
<line x1="395.25" y1="224.63" x2="399.65" y2="224.63" stroke="#000" stroke-width="1.2"/>
<text x="360.40" y="164.60" font-size="10.2" fill="#1a1a1a" stroke="#1a1a1a" stroke-width="0.2" textLength="64.6" lengthAdjust="spacingAndGlyphs">CD14-negative</text>
<line x1="445.60" y1="169.80" x2="445.60" y2="274.00" stroke="#000" stroke-width="1.4"/>
<line x1="445.00" y1="273.40" x2="497.40" y2="273.40" stroke="#000" stroke-width="1.4"/>
<line x1="442.90" y1="269.00" x2="445.60" y2="269.00" stroke="#000" stroke-width="1.1"/>
<text x="439.00" y="271.07" font-size="8.2" text-anchor="end" fill="#1a1a1a" stroke="#1a1a1a" stroke-width="0.2">0.0</text>
<line x1="442.90" y1="237.53" x2="445.60" y2="237.53" stroke="#000" stroke-width="1.1"/>
<text x="439.00" y="239.60" font-size="8.2" text-anchor="end" fill="#1a1a1a" stroke="#1a1a1a" stroke-width="0.2">0.5</text>
<line x1="442.90" y1="206.07" x2="445.60" y2="206.07" stroke="#000" stroke-width="1.1"/>
<text x="439.00" y="208.14" font-size="8.2" text-anchor="end" fill="#1a1a1a" stroke="#1a1a1a" stroke-width="0.2">1.0</text>
<line x1="442.90" y1="174.61" x2="445.60" y2="174.61" stroke="#000" stroke-width="1.1"/>
<text x="439.00" y="176.68" font-size="8.2" text-anchor="end" fill="#1a1a1a" stroke="#1a1a1a" stroke-width="0.2">1.5</text>
<line x1="459.60" y1="273.40" x2="459.60" y2="276.40" stroke="#000" stroke-width="1.1"/>
<line x1="482.80" y1="273.40" x2="482.80" y2="276.40" stroke="#000" stroke-width="1.1"/>
<text x="458.30" y="285.60" font-size="9.4" text-anchor="middle" fill="#222" stroke="#222" stroke-width="0.08" textLength="22.4" lengthAdjust="spacingAndGlyphs">Control</text>
<text x="485.80" y="285.60" font-size="9.4" text-anchor="middle" fill="#222" stroke="#222" stroke-width="0.08" textLength="21.7" lengthAdjust="spacingAndGlyphs">AsPr-ko</text>
<rect x="449.80" y="219.91" width="20.00" height="49.09" fill="#170202"/>
<line x1="459.80" y1="229.98" x2="459.80" y2="209.85" stroke="#000" stroke-width="1.2"/>
<line x1="457.60" y1="229.98" x2="462.00" y2="229.98" stroke="#000" stroke-width="1.2"/>
<line x1="457.60" y1="209.85" x2="462.00" y2="209.85" stroke="#000" stroke-width="1.2"/>
<rect x="472.60" y="256.41" width="20.70" height="12.59" fill="#170202"/>
<line x1="482.95" y1="258.30" x2="482.95" y2="254.53" stroke="#000" stroke-width="1.2"/>
<line x1="480.75" y1="258.30" x2="485.15" y2="258.30" stroke="#000" stroke-width="1.2"/>
<line x1="480.75" y1="254.53" x2="485.15" y2="254.53" stroke="#000" stroke-width="1.2"/>
<text x="447.40" y="164.60" font-size="10.2" fill="#1a1a1a" stroke="#1a1a1a" stroke-width="0.2" textLength="61.1" lengthAdjust="spacingAndGlyphs">CD14-positive</text>
<text x="340.00" y="254.20" font-size="9.8" fill="#222" stroke="#222" stroke-width="0.08" textLength="62.2" lengthAdjust="spacingAndGlyphs" transform="rotate(-90 340.00 254.20)">asRNA/mRNA ratio</text>
<rect x="451.70" y="170.60" width="10.60" height="9.60" fill="#170202"/>
<text x="465.20" y="177.30" font-size="6.9" fill="#1a1a1a" stroke="#1a1a1a" stroke-width="0.2" textLength="41.3" lengthAdjust="spacingAndGlyphs">asRNA/mRNA</text>
<line x1="460.40" y1="196.90" x2="483.50" y2="196.90" stroke="#000" stroke-width="1.4"/>
<ellipse cx="471.60" cy="191.70" rx="1.0" ry="1.15" fill="#000"/>
<text x="8.34" y="302.40" font-size="11.6" fill="#000" font-weight="bold">G</text>
<line x1="51.00" y1="317.20" x2="51.00" y2="420.80" stroke="#000" stroke-width="1.4"/>
<line x1="50.40" y1="420.20" x2="148.90" y2="420.20" stroke="#000" stroke-width="1.4"/>
<line x1="48.40" y1="416.10" x2="51.00" y2="416.10" stroke="#000" stroke-width="1.1"/>
<text x="44.60" y="418.10" font-size="8.0" text-anchor="end" fill="#1a1a1a" stroke="#1a1a1a" stroke-width="0.2">0</text>
<line x1="48.40" y1="392.60" x2="51.00" y2="392.60" stroke="#000" stroke-width="1.1"/>
<text x="44.60" y="394.60" font-size="8.0" text-anchor="end" fill="#1a1a1a" stroke="#1a1a1a" stroke-width="0.2">25</text>
<line x1="48.40" y1="369.10" x2="51.00" y2="369.10" stroke="#000" stroke-width="1.1"/>
<text x="44.60" y="371.10" font-size="8.0" text-anchor="end" fill="#1a1a1a" stroke="#1a1a1a" stroke-width="0.2">50</text>
<line x1="48.40" y1="345.60" x2="51.00" y2="345.60" stroke="#000" stroke-width="1.1"/>
<text x="44.60" y="347.60" font-size="8.0" text-anchor="end" fill="#1a1a1a" stroke="#1a1a1a" stroke-width="0.2">75</text>
<line x1="48.40" y1="322.10" x2="51.00" y2="322.10" stroke="#000" stroke-width="1.1"/>
<text x="44.60" y="324.10" font-size="8.0" text-anchor="end" fill="#1a1a1a" stroke="#1a1a1a" stroke-width="0.2">100</text>
<line x1="68.80" y1="420.20" x2="68.80" y2="422.80" stroke="#000" stroke-width="1.1"/>
<text x="69.70" y="431.50" font-size="8.8" text-anchor="middle" fill="#222" stroke="#222" stroke-width="0.08" textLength="8.6" lengthAdjust="spacingAndGlyphs">G0</text>
<line x1="99.60" y1="420.20" x2="99.60" y2="422.80" stroke="#000" stroke-width="1.1"/>
<text x="100.00" y="431.50" font-size="8.8" text-anchor="middle" fill="#222" stroke="#222" stroke-width="0.08" textLength="7.6" lengthAdjust="spacingAndGlyphs">G1</text>
<line x1="130.40" y1="420.20" x2="130.40" y2="422.80" stroke="#000" stroke-width="1.1"/>
<text x="130.20" y="431.50" font-size="8.8" text-anchor="middle" fill="#222" stroke="#222" stroke-width="0.08" textLength="21.2" lengthAdjust="spacingAndGlyphs">S-G2-M</text>
<text x="30.20" y="395.00" font-size="10.0" fill="#222" stroke="#222" stroke-width="0.08" textLength="51.0" lengthAdjust="spacingAndGlyphs" transform="rotate(-90 30.20 395.00)">Cell percentage</text>
<rect x="55.80" y="370.98" width="12.70" height="45.12" fill="#BECBD2"/>
<line x1="62.15" y1="374.74" x2="62.15" y2="367.22" stroke="#000" stroke-width="1.2"/>
<line x1="60.15" y1="374.74" x2="64.15" y2="374.74" stroke="#000" stroke-width="1.2"/>
<line x1="60.15" y1="367.22" x2="64.15" y2="367.22" stroke="#000" stroke-width="1.2"/>
<rect x="68.90" y="337.61" width="13.80" height="78.49" fill="#C50013"/>
<line x1="75.80" y1="339.49" x2="75.80" y2="335.73" stroke="#000" stroke-width="1.2"/>
<line x1="73.80" y1="339.49" x2="77.80" y2="339.49" stroke="#000" stroke-width="1.2"/>
<line x1="73.80" y1="335.73" x2="77.80" y2="335.73" stroke="#000" stroke-width="1.2"/>
<rect x="86.20" y="389.78" width="12.80" height="26.32" fill="#BECBD2"/>
<line x1="92.60" y1="392.60" x2="92.60" y2="386.96" stroke="#000" stroke-width="1.2"/>
<line x1="90.60" y1="392.60" x2="94.60" y2="392.60" stroke="#000" stroke-width="1.2"/>
<line x1="90.60" y1="386.96" x2="94.60" y2="386.96" stroke="#000" stroke-width="1.2"/>
<rect x="99.70" y="404.82" width="13.80" height="11.28" fill="#C50013"/>
<line x1="106.60" y1="406.89" x2="106.60" y2="402.75" stroke="#000" stroke-width="1.2"/>
<line x1="104.60" y1="406.89" x2="108.60" y2="406.89" stroke="#000" stroke-width="1.2"/>
<line x1="104.60" y1="402.75" x2="108.60" y2="402.75" stroke="#000" stroke-width="1.2"/>
<rect x="117.30" y="393.54" width="12.70" height="22.56" fill="#BECBD2"/>
<line x1="123.65" y1="395.70" x2="123.65" y2="391.38" stroke="#000" stroke-width="1.2"/>
<line x1="121.65" y1="395.70" x2="125.65" y2="395.70" stroke="#000" stroke-width="1.2"/>
<line x1="121.65" y1="391.38" x2="125.65" y2="391.38" stroke="#000" stroke-width="1.2"/>
<rect x="130.50" y="412.81" width="13.70" height="3.29" fill="#C50013"/>
<line x1="137.35" y1="413.37" x2="137.35" y2="412.25" stroke="#000" stroke-width="1.2"/>
<line x1="135.35" y1="413.37" x2="139.35" y2="413.37" stroke="#000" stroke-width="1.2"/>
<line x1="135.35" y1="412.25" x2="139.35" y2="412.25" stroke="#000" stroke-width="1.2"/>
<rect x="90.20" y="319.20" width="10.70" height="10.10" fill="#BECBD2"/>
<rect x="90.20" y="331.40" width="10.70" height="10.00" fill="#C50013"/>
<text x="104.00" y="326.40" font-size="8.0" fill="#1a1a1a" stroke="#1a1a1a" stroke-width="0.2" textLength="32.7" lengthAdjust="spacingAndGlyphs">shControl</text>
<text x="104.00" y="338.30" font-size="8.0" fill="#1a1a1a" stroke="#1a1a1a" stroke-width="0.2" textLength="30.8" lengthAdjust="spacingAndGlyphs">shPU.1as</text>
<line x1="61.10" y1="326.70" x2="75.90" y2="326.70" stroke="#000" stroke-width="1.4"/>
<ellipse cx="65.30" cy="322.10" rx="1.0" ry="1.15" fill="#000"/>
<ellipse cx="68.40" cy="322.10" rx="1.0" ry="1.15" fill="#000"/>
<ellipse cx="71.50" cy="322.10" rx="1.0" ry="1.15" fill="#000"/>
<line x1="92.90" y1="379.30" x2="108.00" y2="379.30" stroke="#000" stroke-width="1.4"/>
<ellipse cx="99.35" cy="374.70" rx="1.0" ry="1.15" fill="#000"/>
<ellipse cx="102.45" cy="374.70" rx="1.0" ry="1.15" fill="#000"/>
<line x1="123.30" y1="379.30" x2="138.70" y2="379.30" stroke="#000" stroke-width="1.4"/>
<ellipse cx="127.90" cy="374.70" rx="1.0" ry="1.15" fill="#000"/>
<ellipse cx="131.00" cy="374.70" rx="1.0" ry="1.15" fill="#000"/>
<ellipse cx="134.10" cy="374.70" rx="1.0" ry="1.15" fill="#000"/>
<text x="166.45" y="302.40" font-size="11.6" fill="#000" font-weight="bold">H</text>
<line x1="196.80" y1="319.10" x2="196.80" y2="423.00" stroke="#000" stroke-width="1.4"/>
<line x1="196.20" y1="422.50" x2="295.10" y2="422.50" stroke="#000" stroke-width="1.4"/>
<line x1="194.20" y1="418.20" x2="196.80" y2="418.20" stroke="#000" stroke-width="1.1"/>
<text x="190.40" y="420.20" font-size="8.0" text-anchor="end" fill="#1a1a1a" stroke="#1a1a1a" stroke-width="0.2">0</text>
<line x1="194.20" y1="394.45" x2="196.80" y2="394.45" stroke="#000" stroke-width="1.1"/>
<text x="190.40" y="396.45" font-size="8.0" text-anchor="end" fill="#1a1a1a" stroke="#1a1a1a" stroke-width="0.2">25</text>
<line x1="194.20" y1="370.70" x2="196.80" y2="370.70" stroke="#000" stroke-width="1.1"/>
<text x="190.40" y="372.70" font-size="8.0" text-anchor="end" fill="#1a1a1a" stroke="#1a1a1a" stroke-width="0.2">50</text>
<line x1="194.20" y1="346.95" x2="196.80" y2="346.95" stroke="#000" stroke-width="1.1"/>
<text x="190.40" y="348.95" font-size="8.0" text-anchor="end" fill="#1a1a1a" stroke="#1a1a1a" stroke-width="0.2">75</text>
<line x1="194.20" y1="323.20" x2="196.80" y2="323.20" stroke="#000" stroke-width="1.1"/>
<text x="190.40" y="325.20" font-size="8.0" text-anchor="end" fill="#1a1a1a" stroke="#1a1a1a" stroke-width="0.2">100</text>
<line x1="214.80" y1="422.50" x2="214.80" y2="425.00" stroke="#000" stroke-width="1.1"/>
<text x="209.60" y="433.20" font-size="8.8" text-anchor="middle" fill="#222" stroke="#222" stroke-width="0.08" textLength="23.2" lengthAdjust="spacingAndGlyphs">PI-AnnV-</text>
<line x1="245.70" y1="422.50" x2="245.70" y2="425.00" stroke="#000" stroke-width="1.1"/>
<text x="244.50" y="433.20" font-size="8.8" text-anchor="middle" fill="#222" stroke="#222" stroke-width="0.08" textLength="26.9" lengthAdjust="spacingAndGlyphs">PI-AnnV+</text>
<line x1="276.80" y1="422.50" x2="276.80" y2="425.00" stroke="#000" stroke-width="1.1"/>
<text x="283.00" y="433.20" font-size="8.8" text-anchor="middle" fill="#222" stroke="#222" stroke-width="0.08" textLength="29.9" lengthAdjust="spacingAndGlyphs">PI+AnnV+</text>
<text x="176.20" y="397.40" font-size="10.0" fill="#222" stroke="#222" stroke-width="0.08" textLength="52.0" lengthAdjust="spacingAndGlyphs" transform="rotate(-90 176.20 397.40)">Cell percentage</text>
<rect x="201.30" y="327.95" width="13.30" height="90.25" fill="#BECBD2"/>
<line x1="207.95" y1="328.52" x2="207.95" y2="327.38" stroke="#000" stroke-width="1.2"/>
<line x1="205.95" y1="328.52" x2="209.95" y2="328.52" stroke="#000" stroke-width="1.2"/>
<line x1="205.95" y1="327.38" x2="209.95" y2="327.38" stroke="#000" stroke-width="1.2"/>
<rect x="214.80" y="359.30" width="13.90" height="58.90" fill="#C50013"/>
<line x1="221.75" y1="361.68" x2="221.75" y2="356.93" stroke="#000" stroke-width="1.2"/>
<line x1="219.75" y1="361.68" x2="223.75" y2="361.68" stroke="#000" stroke-width="1.2"/>
<line x1="219.75" y1="356.93" x2="223.75" y2="356.93" stroke="#000" stroke-width="1.2"/>
<rect x="232.60" y="417.25" width="13.00" height="0.95" fill="#BECBD2"/>
<line x1="239.10" y1="417.44" x2="239.10" y2="417.06" stroke="#000" stroke-width="1.2"/>
<line x1="237.10" y1="417.44" x2="241.10" y2="417.44" stroke="#000" stroke-width="1.2"/>
<line x1="237.10" y1="417.06" x2="241.10" y2="417.06" stroke="#000" stroke-width="1.2"/>
<rect x="245.70" y="413.45" width="14.00" height="4.75" fill="#C50013"/>
<line x1="252.70" y1="414.88" x2="252.70" y2="412.02" stroke="#000" stroke-width="1.2"/>
<line x1="250.70" y1="414.88" x2="254.70" y2="414.88" stroke="#000" stroke-width="1.2"/>
<line x1="250.70" y1="412.02" x2="254.70" y2="412.02" stroke="#000" stroke-width="1.2"/>
<rect x="263.00" y="417.25" width="13.00" height="0.95" fill="#BECBD2"/>
<line x1="269.50" y1="417.53" x2="269.50" y2="416.96" stroke="#000" stroke-width="1.2"/>
<line x1="267.50" y1="417.53" x2="271.50" y2="417.53" stroke="#000" stroke-width="1.2"/>
<line x1="267.50" y1="416.96" x2="271.50" y2="416.96" stroke="#000" stroke-width="1.2"/>
<rect x="276.30" y="411.55" width="14.50" height="6.65" fill="#C50013"/>
<line x1="283.55" y1="411.93" x2="283.55" y2="411.17" stroke="#000" stroke-width="1.2"/>
<line x1="281.55" y1="411.93" x2="285.55" y2="411.93" stroke="#000" stroke-width="1.2"/>
<line x1="281.55" y1="411.17" x2="285.55" y2="411.17" stroke="#000" stroke-width="1.2"/>
<rect x="243.20" y="321.00" width="10.70" height="10.40" fill="#BECBD2"/>
<rect x="243.20" y="333.70" width="10.70" height="10.10" fill="#C50013"/>
<text x="257.00" y="328.60" font-size="8.0" fill="#1a1a1a" stroke="#1a1a1a" stroke-width="0.2" textLength="32.9" lengthAdjust="spacingAndGlyphs">shControl</text>
<text x="257.00" y="340.60" font-size="8.0" fill="#1a1a1a" stroke="#1a1a1a" stroke-width="0.2" textLength="30.8" lengthAdjust="spacingAndGlyphs">shPU.1as</text>
<line x1="208.10" y1="321.30" x2="223.70" y2="321.30" stroke="#000" stroke-width="1.4"/>
<ellipse cx="209.50" cy="316.50" rx="1.0" ry="1.15" fill="#000"/>
<ellipse cx="212.60" cy="316.50" rx="1.0" ry="1.15" fill="#000"/>
<ellipse cx="215.70" cy="316.50" rx="1.0" ry="1.15" fill="#000"/>
<line x1="238.90" y1="395.20" x2="253.90" y2="395.20" stroke="#000" stroke-width="1.4"/>
<ellipse cx="246.20" cy="390.40" rx="1.0" ry="1.15" fill="#000"/>
<line x1="269.50" y1="395.20" x2="284.80" y2="395.20" stroke="#000" stroke-width="1.4"/>
<ellipse cx="273.90" cy="390.40" rx="1.0" ry="1.15" fill="#000"/>
<ellipse cx="277.00" cy="390.40" rx="1.0" ry="1.15" fill="#000"/>
<ellipse cx="280.10" cy="390.40" rx="1.0" ry="1.15" fill="#000"/>
<text x="312.85" y="302.40" font-size="11.6" fill="#000" font-weight="bold">I</text>
<defs>
<radialGradient id="cyto" cx="0.5" cy="0.5" r="0.5"><stop offset="0" stop-color="#BCBAF0"/><stop offset="0.7" stop-color="#A2A2EA"/><stop offset="1" stop-color="#5E62DA"/></radialGradient>
<radialGradient id="nuc" cx="0.5" cy="0.5" r="0.5"><stop offset="0" stop-color="#5A24B4"/><stop offset="0.6" stop-color="#7A3CC6"/><stop offset="1" stop-color="#9466D6" stop-opacity="0.5"/></radialGradient>
<radialGradient id="nuc2" cx="0.5" cy="0.5" r="0.5"><stop offset="0" stop-color="#2A0A80"/><stop offset="0.35" stop-color="#6A2ABE"/><stop offset="0.85" stop-color="#8A40CC"/><stop offset="1" stop-color="#9A60D4"/></radialGradient>
<radialGradient id="bigc" cx="0.5" cy="0.5" r="0.5"><stop offset="0" stop-color="#8A92DA"/><stop offset="0.75" stop-color="#7C88D6"/><stop offset="1" stop-color="#9AA8DE"/></radialGradient>
</defs>
<rect x="355.20" y="307.50" width="73.10" height="51.90" fill="#FAFBFD"/>
<g transform="rotate(-15 389.7 320.4)">
<ellipse cx="389.70" cy="320.40" rx="6.40" ry="7.70" fill="url(#cyto)"/>
<ellipse cx="388.00" cy="318.40" rx="4.60" ry="5.30" fill="url(#nuc)" opacity="0.9"/>
</g>
<g transform="rotate(0 380.7 343.8)">
<ellipse cx="380.70" cy="343.80" rx="5.60" ry="6.60" fill="url(#cyto)"/>
<ellipse cx="382.40" cy="343.00" rx="3.60" ry="5.00" fill="url(#nuc)" opacity="0.9"/>
</g>
<g transform="rotate(0 415.4 338.9)">
<ellipse cx="415.40" cy="338.90" rx="7.00" ry="6.70" fill="url(#cyto)"/>
<ellipse cx="416.80" cy="338.60" rx="4.30" ry="5.20" fill="url(#nuc)" opacity="0.9"/>
</g>
<rect x="353.70" y="305.90" width="76.00" height="55.00" fill="none" stroke="#000" stroke-width="1.5"/>
<text x="389.20" y="369.50" font-size="9.6" text-anchor="middle" fill="#222" stroke="#222" stroke-width="0.08" textLength="31.1" lengthAdjust="spacingAndGlyphs">shControl</text>
<rect x="353.30" y="373.30" width="37.90" height="28.60" fill="#FAF9FB"/>
<rect x="391.20" y="373.30" width="39.70" height="28.60" fill="#D8EBD8"/>
<rect x="353.30" y="401.90" width="37.90" height="26.90" fill="#D8EBD8"/>
<rect x="391.20" y="401.90" width="39.70" height="26.90" fill="#DAEDDB"/>
<ellipse cx="357.70" cy="390.30" rx="4.30" ry="4.30" fill="#C8B6E6"/>
<ellipse cx="355.90" cy="389.00" rx="2.10" ry="2.10" fill="#6A2FB8"/>
<ellipse cx="384.60" cy="388.50" rx="4.50" ry="4.50" fill="#D8CCEC"/>
<ellipse cx="387.50" cy="387.50" rx="1.70" ry="1.70" fill="#6A2FB8"/>
<path d="M402,380 C404,376 410,375 416,375.5 C421,376 424.5,379 425,384 C425.5,390 424,395 421,398 C417,400.5 410,400.8 405,399 C401,397 400.2,391 400.5,386 C400.7,383 401,381.5 402,380 Z" fill="url(#bigc)" stroke="#7C88D6" stroke-width="0.9" stroke-opacity="0.7"/>
<ellipse cx="415.20" cy="382.90" rx="4.80" ry="4.80" fill="url(#nuc2)"/>
<ellipse cx="413.50" cy="395.50" rx="1.20" ry="1.00" fill="#40209A"/>
<g transform="rotate(22 373.8 415.3)">
<rect x="356.00" y="405.00" width="35.60" height="20.60" fill="#98A8DE" rx="9"/>
<ellipse cx="372.50" cy="414.50" rx="12.50" ry="6.00" fill="#C4D0EC"/>
</g>
<ellipse cx="374.80" cy="419.40" rx="4.30" ry="4.30" fill="url(#nuc2)"/>
<ellipse cx="380.00" cy="421.50" rx="1.60" ry="1.40" fill="#3A2090"/>
<path d="M404,410 C406,406.5 411,406 415,406.5 C419.5,407 422.5,410 423,414.5 C423.5,419 422,423 418,425 C414,426.5 408,426 405,423.5 C402.5,421 402.5,416 403,413 Z" fill="url(#bigc)" stroke="#8C98DA" stroke-width="0.8" stroke-opacity="0.7"/>
<ellipse cx="414.30" cy="413.70" rx="4.20" ry="4.20" fill="url(#nuc2)"/>
<line x1="391.20" y1="373.30" x2="391.20" y2="428.80" stroke="#6A7A6A" stroke-width="0.5"/>
<line x1="353.30" y1="401.90" x2="430.90" y2="401.90" stroke="#6A7A6A" stroke-width="0.5"/>
<rect x="353.30" y="373.30" width="77.60" height="55.50" fill="none" stroke="#000" stroke-width="1.4"/>
<text x="391.30" y="437.80" font-size="9.6" text-anchor="middle" fill="#222" stroke="#222" stroke-width="0.08" textLength="30.2" lengthAdjust="spacingAndGlyphs">shPU.1as</text>
<text x="8.33" y="450.50" font-size="11.6" fill="#000" font-weight="bold">J</text>
<text x="29.60" y="469.60" font-size="8.3" fill="#2a2a2a" textLength="31.2" lengthAdjust="spacingAndGlyphs" stroke="#2a2a2a" stroke-width="0.12">shPU.1as</text>
<path d="M40.0,480.8 L43.5,473.4 L52.1,473.4 L55.4,480.8 L52.1,488.3 L43.5,488.3 Z" fill="#C4001A" stroke="#5A0008" stroke-width="0.8"/>
<line x1="60.20" y1="481.30" x2="74.10" y2="481.30" stroke="#1234B4" stroke-width="1.2"/>
<path d="M77.60,481.30 L73.80,483.40 L73.80,479.20 Z" fill="#1234B4"/>
<line x1="151.20" y1="481.40" x2="165.30" y2="481.40" stroke="#1234B4" stroke-width="1.2"/>
<path d="M168.80,481.40 L165.00,483.50 L165.00,479.30 Z" fill="#1234B4"/>
<line x1="207.30" y1="501.10" x2="207.30" y2="514.60" stroke="#1234B4" stroke-width="1.2"/>
<path d="M207.30,518.10 L205.20,514.30 L209.40,514.30 Z" fill="#1234B4"/>
<line x1="159.60" y1="534.70" x2="145.80" y2="534.70" stroke="#1234B4" stroke-width="1.2"/>
<path d="M142.30,534.70 L146.10,532.60 L146.10,536.80 Z" fill="#1234B4"/>
<path d="M82.0,475.0 L82.0,486.7 A31.900000000000006,6.3 0 0 0 145.8,486.7 L145.8,475.0" fill="#fff" stroke="#000" stroke-width="0.9"/>
<ellipse cx="113.90" cy="475.00" rx="31.90" ry="5.80" fill="#fff" stroke="#000" stroke-width="0.9"/>
<path d="M83.5,479.0 A30.400000000000006,6.8 0 0 0 144.3,479.0" fill="none" stroke="#000" stroke-width="0.6"/>
<ellipse cx="94.50" cy="482.40" rx="4.20" ry="2.30" fill="#fff" stroke="#000" stroke-width="0.7"/>
<ellipse cx="106.70" cy="482.40" rx="4.20" ry="2.30" fill="#fff" stroke="#000" stroke-width="0.7"/>
<ellipse cx="116.80" cy="483.80" rx="4.20" ry="2.30" fill="#ddd" stroke="#000" stroke-width="0.7"/>
<ellipse cx="129.10" cy="482.40" rx="4.20" ry="2.30" fill="#fff" stroke="#000" stroke-width="0.7"/>
<ellipse cx="88.70" cy="486.70" rx="4.20" ry="2.30" fill="#fff" stroke="#000" stroke-width="0.7"/>
<ellipse cx="99.50" cy="486.70" rx="4.20" ry="2.30" fill="#fff" stroke="#000" stroke-width="0.7"/>
<ellipse cx="110.30" cy="489.60" rx="4.20" ry="2.30" fill="#fff" stroke="#000" stroke-width="0.7"/>
<ellipse cx="124.80" cy="488.80" rx="4.20" ry="2.30" fill="#fff" stroke="#000" stroke-width="0.7"/>
<ellipse cx="135.60" cy="486.70" rx="4.20" ry="2.30" fill="#fff" stroke="#000" stroke-width="0.7"/>
<path d="M173.8,474.5 L173.8,487.4 A31.64999999999999,6.3 0 0 0 237.1,487.4 L237.1,474.5" fill="#fff" stroke="#000" stroke-width="0.9"/>
<ellipse cx="205.45" cy="474.50" rx="31.65" ry="5.80" fill="#fff" stroke="#000" stroke-width="0.9"/>
<path d="M175.3,478.5 A30.14999999999999,6.8 0 0 0 235.6,478.5" fill="none" stroke="#000" stroke-width="0.6"/>
<ellipse cx="185.80" cy="482.10" rx="4.20" ry="2.30" fill="#fff" stroke="#000" stroke-width="0.7"/>
<ellipse cx="180.40" cy="486.50" rx="4.20" ry="2.30" fill="#fff" stroke="#000" stroke-width="0.7"/>
<ellipse cx="208.80" cy="484.60" rx="4.20" ry="2.30" fill="#fff" stroke="#000" stroke-width="0.7"/>
<ellipse cx="198.10" cy="482.10" rx="4.20" ry="2.30" fill="#CC0018" stroke="#000" stroke-width="0.7"/>
<ellipse cx="220.80" cy="482.10" rx="4.20" ry="2.30" fill="#CC0018" stroke="#000" stroke-width="0.7"/>
<ellipse cx="191.50" cy="486.50" rx="4.20" ry="2.30" fill="#CC0018" stroke="#000" stroke-width="0.7"/>
<ellipse cx="201.90" cy="489.20" rx="4.20" ry="2.30" fill="#CC0018" stroke="#000" stroke-width="0.7"/>
<ellipse cx="216.50" cy="489.20" rx="4.20" ry="2.30" fill="#CC0018" stroke="#000" stroke-width="0.7"/>
<ellipse cx="226.90" cy="486.50" rx="4.20" ry="2.30" fill="#CC0018" stroke="#000" stroke-width="0.7"/>
<text x="111.90" y="501.80" font-size="9.6" text-anchor="middle" fill="#2a2a2a" textLength="30" lengthAdjust="spacingAndGlyphs" stroke="#2a2a2a" stroke-width="0.12">Kasumi-1</text>
<text x="111.90" y="511.20" font-size="9.6" text-anchor="middle" fill="#2a2a2a" textLength="25.4" lengthAdjust="spacingAndGlyphs" stroke="#2a2a2a" stroke-width="0.12">cell line</text>
<text x="152.20" y="476.30" font-size="10.2" fill="#2a2a2a" textLength="13.6" lengthAdjust="spacingAndGlyphs" stroke="#2a2a2a" stroke-width="0.12">48h</text>
<text x="211.40" y="512.60" font-size="9.6" fill="#2a2a2a" textLength="22.8" lengthAdjust="spacingAndGlyphs" stroke="#2a2a2a" stroke-width="0.12">sorting</text>
<text x="127.50" y="546.50" font-size="9.7" fill="#2a2a2a" textLength="50.6" lengthAdjust="spacingAndGlyphs" stroke="#2a2a2a" stroke-width="0.12">transplantation</text>
<ellipse cx="194.30" cy="529.30" rx="4.30" ry="2.50" fill="#CC0018" stroke="#000" stroke-width="0.7"/>
<ellipse cx="205.80" cy="530.00" rx="4.30" ry="2.50" fill="#CC0018" stroke="#000" stroke-width="0.7"/>
<ellipse cx="189.50" cy="534.50" rx="4.30" ry="2.50" fill="#CC0018" stroke="#000" stroke-width="0.7"/>
<ellipse cx="200.80" cy="534.50" rx="4.30" ry="2.50" fill="#CC0018" stroke="#000" stroke-width="0.7"/>
<ellipse cx="223.30" cy="534.50" rx="4.30" ry="2.50" fill="#CC0018" stroke="#000" stroke-width="0.7"/>
<ellipse cx="205.00" cy="541.30" rx="4.30" ry="2.50" fill="#CC0018" stroke="#000" stroke-width="0.7"/>
<ellipse cx="210.00" cy="543.00" rx="4.30" ry="2.50" fill="#CC0018" stroke="#000" stroke-width="0.7"/>
<ellipse cx="219.50" cy="541.30" rx="4.30" ry="2.50" fill="#CC0018" stroke="#000" stroke-width="0.7"/>
<path d="M50.5,538.8 C51.5,533 51,526 51.3,521.6 C52,516 55,511 60,509 C64,507.8 68,508.2 71,509 C76,510.5 79,512 81,513.6 C84,516 86,518.5 87.6,519.8 L92.2,517.6 L94.8,520.6 L96.8,522.2 C98.5,521.6 100,521.5 101.4,521.8 C106,524 111,528.5 115.9,532.2 C114,534 111.5,535.5 109.4,536.3 C106.5,537.5 104,539 102,540.4 C100.8,541.2 100.5,542 101.2,543.3 L102.5,544.8 L105.3,546.8 L103.5,546.8 L88,546.4 L84.6,546.8 L82.6,547 L84.2,545.2 L83.5,543.8 L80.5,545.6 C76,546 72,546.6 67.7,546.5 C62,546.2 56,545.8 52,545.5 C49.5,545.3 47.5,545.3 46.5,546.5 C45.2,548.5 45.6,552 47.3,554.3 C49.5,556.3 52,556.8 55,556.9 L79.1,556.9 L79.4,557.6 C70,558 62,558.6 54.6,558.4 C49,558 45.5,557.5 44,556 C41.5,553.5 41,549 42,546.5 C43.5,543 47.5,540.8 50.5,538.8 Z" fill="#fff" stroke="#000" stroke-width="0.9" stroke-linejoin="round"/>
<text x="67.70" y="534.90" font-size="10.2" fill="#2a2a2a" textLength="21.2" lengthAdjust="spacingAndGlyphs" stroke="#2a2a2a" stroke-width="0.12">NSCID</text>
<text x="260.05" y="451.00" font-size="11.6" fill="#000" font-weight="bold">K</text>
<line x1="305.50" y1="457.10" x2="305.50" y2="565.10" stroke="#000" stroke-width="1.4"/>
<line x1="304.90" y1="564.50" x2="507.00" y2="564.50" stroke="#000" stroke-width="1.4"/>
<line x1="302.50" y1="561.00" x2="305.50" y2="561.00" stroke="#000" stroke-width="1.1"/>
<text x="299.50" y="563.04" font-size="8.1" text-anchor="end" fill="#1a1a1a" stroke="#1a1a1a" stroke-width="0.2">0.0</text>
<line x1="302.50" y1="541.16" x2="305.50" y2="541.16" stroke="#000" stroke-width="1.1"/>
<text x="299.50" y="543.20" font-size="8.1" text-anchor="end" fill="#1a1a1a" stroke="#1a1a1a" stroke-width="0.2">0.2</text>
<line x1="302.50" y1="521.32" x2="305.50" y2="521.32" stroke="#000" stroke-width="1.1"/>
<text x="299.50" y="523.36" font-size="8.1" text-anchor="end" fill="#1a1a1a" stroke="#1a1a1a" stroke-width="0.2">0.4</text>
<line x1="302.50" y1="501.48" x2="305.50" y2="501.48" stroke="#000" stroke-width="1.1"/>
<text x="299.50" y="503.51" font-size="8.1" text-anchor="end" fill="#1a1a1a" stroke="#1a1a1a" stroke-width="0.2">0.6</text>
<line x1="302.50" y1="481.64" x2="305.50" y2="481.64" stroke="#000" stroke-width="1.1"/>
<text x="299.50" y="483.67" font-size="8.1" text-anchor="end" fill="#1a1a1a" stroke="#1a1a1a" stroke-width="0.2">0.8</text>
<line x1="302.50" y1="461.80" x2="305.50" y2="461.80" stroke="#000" stroke-width="1.1"/>
<text x="299.50" y="463.83" font-size="8.1" text-anchor="end" fill="#1a1a1a" stroke="#1a1a1a" stroke-width="0.2">1.0</text>
<line x1="313.80" y1="564.50" x2="313.80" y2="567.60" stroke="#000" stroke-width="1.1"/>
<text x="313.80" y="578.60" font-size="7.8" text-anchor="middle" fill="#1a1a1a" stroke="#1a1a1a" stroke-width="0.2">0</text>
<line x1="344.46" y1="564.50" x2="344.46" y2="567.60" stroke="#000" stroke-width="1.1"/>
<text x="344.46" y="578.60" font-size="7.8" text-anchor="middle" fill="#1a1a1a" stroke="#1a1a1a" stroke-width="0.2">2</text>
<line x1="375.12" y1="564.50" x2="375.12" y2="567.60" stroke="#000" stroke-width="1.1"/>
<text x="375.12" y="578.60" font-size="7.8" text-anchor="middle" fill="#1a1a1a" stroke="#1a1a1a" stroke-width="0.2">4</text>
<line x1="405.78" y1="564.50" x2="405.78" y2="567.60" stroke="#000" stroke-width="1.1"/>
<text x="405.78" y="578.60" font-size="7.8" text-anchor="middle" fill="#1a1a1a" stroke="#1a1a1a" stroke-width="0.2">6</text>
<line x1="436.44" y1="564.50" x2="436.44" y2="567.60" stroke="#000" stroke-width="1.1"/>
<text x="436.44" y="578.60" font-size="7.8" text-anchor="middle" fill="#1a1a1a" stroke="#1a1a1a" stroke-width="0.2">8</text>
<line x1="467.10" y1="564.50" x2="467.10" y2="567.60" stroke="#000" stroke-width="1.1"/>
<text x="467.10" y="578.60" font-size="7.8" text-anchor="middle" fill="#1a1a1a" stroke="#1a1a1a" stroke-width="0.2">10</text>
<line x1="497.76" y1="564.50" x2="497.76" y2="567.60" stroke="#000" stroke-width="1.1"/>
<text x="497.76" y="578.60" font-size="7.8" text-anchor="middle" fill="#1a1a1a" stroke="#1a1a1a" stroke-width="0.2">12</text>
<text x="378.00" y="589.90" font-size="10.4" fill="#222" stroke="#222" stroke-width="0.08" textLength="43.9" lengthAdjust="spacingAndGlyphs">Time (weeks)</text>
<text x="279.30" y="547.00" font-size="10.2" fill="#222" stroke="#222" stroke-width="0.08" textLength="65.5" lengthAdjust="spacingAndGlyphs" transform="rotate(-90 279.30 547.00)">Survival probability</text>
<line x1="374.62" y1="461.80" x2="510.02" y2="461.80" stroke="#C8101E" stroke-width="1.7"/>
<path d="M313.80,461.80 L375.12,461.80 L375.12,475.99 L390.45,475.99 L390.45,490.17 L421.11,490.17 L421.11,504.36 L436.44,504.36 L436.44,518.44 L451.77,518.44 L451.77,532.63 L510.02,532.63" fill="none" stroke="#B2C3CB" stroke-width="1.5"/>
<line x1="331.20" y1="520.50" x2="346.20" y2="520.50" stroke="#C8101E" stroke-width="1.7"/>
<line x1="331.20" y1="530.00" x2="346.20" y2="530.00" stroke="#B2C3CB" stroke-width="1.5"/>
<text x="350.00" y="522.50" font-size="7.6" fill="#1a1a1a" stroke="#1a1a1a" stroke-width="0.2" textLength="30.7" lengthAdjust="spacingAndGlyphs">shPU.1as</text>
<text x="350.00" y="531.80" font-size="7.6" fill="#1a1a1a" stroke="#1a1a1a" stroke-width="0.2" textLength="33.2" lengthAdjust="spacingAndGlyphs">shControl</text>
<text x="454.30" y="481.40" font-size="7.8" fill="#1a1a1a" stroke="#1a1a1a" stroke-width="0.2" textLength="38.1" lengthAdjust="spacingAndGlyphs">P = 0.0065</text>
<text x="8.85" y="574.50" font-size="11.6" fill="#000" font-weight="bold">L</text>
<defs><linearGradient id="lbg" x1="0" y1="0" x2="0" y2="1">
<stop offset="0" stop-color="#C4D8CE"/><stop offset="0.35" stop-color="#D2E4DA"/><stop offset="0.62" stop-color="#C8E2D6"/><stop offset="0.68" stop-color="#D0E0C6"/><stop offset="1" stop-color="#D6DEAC"/></linearGradient>
<radialGradient id="spl" cx="0.55" cy="0.55" r="0.6"><stop offset="0" stop-color="#5A0828"/><stop offset="0.45" stop-color="#7A0C30"/><stop offset="0.8" stop-color="#B01038"/><stop offset="1" stop-color="#D8143E"/></radialGradient>
<radialGradient id="spl2" cx="0.5" cy="0.5" r="0.6"><stop offset="0" stop-color="#3E0618"/><stop offset="0.6" stop-color="#5A0A24"/><stop offset="1" stop-color="#B01034"/></radialGradient>
<linearGradient id="rul" x1="0" y1="0" x2="0" y2="1"><stop offset="0" stop-color="#F49060"/><stop offset="0.5" stop-color="#F6A67A"/><stop offset="1" stop-color="#F4BC96"/></linearGradient>
</defs>
<rect x="37.00" y="588.60" width="85.60" height="70.20" fill="url(#lbg)"/>
<rect x="38.00" y="635.40" width="84.00" height="9.50" fill="url(#rul)"/>
<line x1="39.30" y1="635.40" x2="39.30" y2="647.90" stroke="#EF5A28" stroke-width="0.75"/>
<line x1="41.29" y1="635.40" x2="41.29" y2="644.00" stroke="#EF5A28" stroke-width="0.75"/>
<line x1="43.28" y1="635.40" x2="43.28" y2="644.00" stroke="#EF5A28" stroke-width="0.75"/>
<line x1="45.27" y1="635.40" x2="45.27" y2="644.00" stroke="#EF5A28" stroke-width="0.75"/>
<line x1="47.26" y1="635.40" x2="47.26" y2="644.00" stroke="#EF5A28" stroke-width="0.75"/>
<line x1="49.25" y1="635.40" x2="49.25" y2="645.90" stroke="#EF5A28" stroke-width="0.75"/>
<line x1="51.24" y1="635.40" x2="51.24" y2="644.00" stroke="#EF5A28" stroke-width="0.75"/>
<line x1="53.23" y1="635.40" x2="53.23" y2="644.00" stroke="#EF5A28" stroke-width="0.75"/>
<line x1="55.22" y1="635.40" x2="55.22" y2="644.00" stroke="#EF5A28" stroke-width="0.75"/>
<line x1="57.21" y1="635.40" x2="57.21" y2="644.00" stroke="#EF5A28" stroke-width="0.75"/>
<line x1="59.20" y1="635.40" x2="59.20" y2="647.90" stroke="#EF5A28" stroke-width="0.75"/>
<line x1="61.19" y1="635.40" x2="61.19" y2="644.00" stroke="#EF5A28" stroke-width="0.75"/>
<line x1="63.18" y1="635.40" x2="63.18" y2="644.00" stroke="#EF5A28" stroke-width="0.75"/>
<line x1="65.17" y1="635.40" x2="65.17" y2="644.00" stroke="#EF5A28" stroke-width="0.75"/>
<line x1="67.16" y1="635.40" x2="67.16" y2="644.00" stroke="#EF5A28" stroke-width="0.75"/>
<line x1="69.15" y1="635.40" x2="69.15" y2="645.90" stroke="#EF5A28" stroke-width="0.75"/>
<line x1="71.14" y1="635.40" x2="71.14" y2="644.00" stroke="#EF5A28" stroke-width="0.75"/>
<line x1="73.13" y1="635.40" x2="73.13" y2="644.00" stroke="#EF5A28" stroke-width="0.75"/>
<line x1="75.12" y1="635.40" x2="75.12" y2="644.00" stroke="#EF5A28" stroke-width="0.75"/>
<line x1="77.11" y1="635.40" x2="77.11" y2="644.00" stroke="#EF5A28" stroke-width="0.75"/>
<line x1="79.10" y1="635.40" x2="79.10" y2="647.90" stroke="#EF5A28" stroke-width="0.75"/>
<line x1="81.09" y1="635.40" x2="81.09" y2="644.00" stroke="#EF5A28" stroke-width="0.75"/>
<line x1="83.08" y1="635.40" x2="83.08" y2="644.00" stroke="#EF5A28" stroke-width="0.75"/>
<line x1="85.07" y1="635.40" x2="85.07" y2="644.00" stroke="#EF5A28" stroke-width="0.75"/>
<line x1="87.06" y1="635.40" x2="87.06" y2="644.00" stroke="#EF5A28" stroke-width="0.75"/>
<line x1="89.05" y1="635.40" x2="89.05" y2="645.90" stroke="#EF5A28" stroke-width="0.75"/>
<line x1="91.04" y1="635.40" x2="91.04" y2="644.00" stroke="#EF5A28" stroke-width="0.75"/>
<line x1="93.03" y1="635.40" x2="93.03" y2="644.00" stroke="#EF5A28" stroke-width="0.75"/>
<line x1="95.02" y1="635.40" x2="95.02" y2="644.00" stroke="#EF5A28" stroke-width="0.75"/>
<line x1="97.01" y1="635.40" x2="97.01" y2="644.00" stroke="#EF5A28" stroke-width="0.75"/>
<line x1="99.00" y1="635.40" x2="99.00" y2="647.90" stroke="#EF5A28" stroke-width="0.75"/>
<line x1="100.99" y1="635.40" x2="100.99" y2="644.00" stroke="#EF5A28" stroke-width="0.75"/>
<line x1="102.98" y1="635.40" x2="102.98" y2="644.00" stroke="#EF5A28" stroke-width="0.75"/>
<line x1="104.97" y1="635.40" x2="104.97" y2="644.00" stroke="#EF5A28" stroke-width="0.75"/>
<line x1="106.96" y1="635.40" x2="106.96" y2="644.00" stroke="#EF5A28" stroke-width="0.75"/>
<line x1="108.95" y1="635.40" x2="108.95" y2="645.90" stroke="#EF5A28" stroke-width="0.75"/>
<line x1="110.94" y1="635.40" x2="110.94" y2="644.00" stroke="#EF5A28" stroke-width="0.75"/>
<line x1="112.93" y1="635.40" x2="112.93" y2="644.00" stroke="#EF5A28" stroke-width="0.75"/>
<line x1="114.92" y1="635.40" x2="114.92" y2="644.00" stroke="#EF5A28" stroke-width="0.75"/>
<line x1="116.91" y1="635.40" x2="116.91" y2="644.00" stroke="#EF5A28" stroke-width="0.75"/>
<line x1="118.90" y1="635.40" x2="118.90" y2="647.90" stroke="#EF5A28" stroke-width="0.75"/>
<line x1="120.89" y1="635.40" x2="120.89" y2="644.00" stroke="#EF5A28" stroke-width="0.75"/>
<rect x="38.00" y="635.40" width="84.00" height="1.60" fill="#F06A38"/>
<text x="59.20" y="655.30" font-size="5.4" text-anchor="middle" fill="#EE5A2A" font-weight="bold">1</text>
<text x="79.10" y="655.30" font-size="5.4" text-anchor="middle" fill="#EE5A2A" font-weight="bold">2</text>
<text x="99.00" y="655.30" font-size="5.4" text-anchor="middle" fill="#EE5A2A" font-weight="bold">3</text>
<text x="118.10" y="655.30" font-size="5.4" text-anchor="middle" fill="#EE5A2A" font-weight="bold">4</text>
<text x="41.50" y="652.80" font-size="4.2" fill="#EE5A2A" stroke="#EE5A2A" stroke-width="0.2">cm</text>
<path d="M42,596 C44,594.5 50,595.5 56,597 C63,598.5 72,598 79,596.5 C82,595.8 85,595.5 86,597 C87,599 85.5,603 83,606.5 C79,611 72,614.5 63,614.8 C55,615 48,612.5 44.5,608.5 C41.5,605 40.5,599 42,596 Z" fill="url(#spl)"/>
<path d="M100.2,599.0 C101,597.6 103,597.8 105,599.1 C108,601.3 111,603.1 114.5,604.6 C117.5,605.8 118.6,607.8 117.4,609.8 C115.6,611.4 112,611.4 108.5,610.6 C104.5,609.6 101.6,607.6 100.5,604.6 C99.9,602.8 99.8,600.4 100.2,599.0 Z" fill="url(#spl2)"/>
<text x="63.60" y="623.60" font-size="6.0" text-anchor="middle" fill="#111" font-weight="bold" textLength="22.5" lengthAdjust="spacingAndGlyphs">shControl</text>
<text x="109.50" y="623.60" font-size="6.0" text-anchor="middle" fill="#111" font-weight="bold" textLength="22.5" lengthAdjust="spacingAndGlyphs">shPU.1as</text>
<rect x="37.00" y="588.60" width="85.60" height="70.20" fill="none" stroke="#000" stroke-width="1.2"/>
<text x="144.05" y="574.80" font-size="11.6" fill="#000" font-weight="bold">M</text>
<defs><linearGradient id="mgx" x1="0" y1="0" x2="1" y2="0.25"><stop offset="0" stop-color="#5C8A86"/><stop offset="0.45" stop-color="#66928E"/><stop offset="0.75" stop-color="#7E9C9C"/><stop offset="1" stop-color="#98A0B0"/></linearGradient>
<linearGradient id="mtop" x1="0" y1="0" x2="0" y2="1"><stop offset="0" stop-color="#C8C8D8" stop-opacity="0.45"/><stop offset="0.2" stop-color="#C8C8D8" stop-opacity="0"/><stop offset="0.8" stop-color="#6A6488" stop-opacity="0"/><stop offset="1" stop-color="#6A6488" stop-opacity="0.45"/></linearGradient>
<radialGradient id="mv" cx="0.5" cy="0.45" r="0.72"><stop offset="0.6" stop-color="#000" stop-opacity="0"/><stop offset="1" stop-color="#303850" stop-opacity="0.35"/></radialGradient>
<linearGradient id="b1" x1="0" y1="0" x2="0.4" y2="1"><stop offset="0" stop-color="#F0E6CC"/><stop offset="0.6" stop-color="#E2D2A6"/><stop offset="1" stop-color="#D8A078"/></linearGradient>
<linearGradient id="b2" x1="0" y1="0" x2="0.3" y2="1"><stop offset="0" stop-color="#B8307A"/><stop offset="0.35" stop-color="#9E5088"/><stop offset="0.65" stop-color="#B86278"/><stop offset="1" stop-color="#C84044"/></linearGradient></defs>
<rect x="174.60" y="588.30" width="87.70" height="70.70" fill="url(#mgx)"/>
<rect x="174.60" y="588.30" width="87.70" height="70.70" fill="url(#mtop)"/>
<rect x="175.90" y="589.60" width="85.10" height="68.10" fill="none" stroke="#B8B8CC" stroke-width="1.0" opacity="0.75"/>
<path d="M203,612 C206,618 209,624 212,630 L219,637 L215,640 L209,635 Z" fill="#3E5E5E" opacity="0.55"/>
<path d="M242,613 C244,619 246,625 249,631 L254,638 L249,641 L244,635 Z" fill="#3E5252" opacity="0.55"/>
<path d="M195.2,606.5 C197.5,604.8 202,605.5 203.6,608.2 C203.5,610.2 202,611 201.4,612.5 C203.5,618 206,623 208.5,628.2 C212,629.6 216.5,631.5 216.6,634.5 C215.5,637.2 211,636.8 208.5,635.8 C205.5,636.5 203.2,634.5 204.3,631.2 C203.8,626 200.5,618.5 198.3,613.2 C196.3,611.4 194.5,608.6 195.2,606.5 Z" fill="url(#b1)"/>
<path d="M205.5,630 C208,629.5 210,631.5 209.5,633.8 C208,635.5 205.5,634.5 205,632.5 Z" fill="#D07850" opacity="0.85"/>
<ellipse cx="208.60" cy="634.60" rx="1.60" ry="1.30" fill="#F4EED8"/>
<ellipse cx="214.20" cy="634.00" rx="1.80" ry="1.40" fill="#F0E4C4"/>
<path d="M199,610 C201.5,616 204,622 206.8,628" fill="none" stroke="#F8F2E2" stroke-width="1.0"/>
<path d="M230.2,607.5 C232,605.5 238,605.2 244,606.8 C245.5,608.5 244.5,611.5 241.6,612.6 C242.2,618 243.6,623.5 245.8,628 C249.5,629.5 251.5,633.5 250.4,637.2 C247.6,639.6 242,639.2 239.2,636.6 C237,634.5 237.5,631 239.6,629.2 C238.5,623 237.4,618 236.4,613.4 C232,612.6 229.5,610 230.2,607.5 Z" fill="url(#b2)"/>
<ellipse cx="231.60" cy="608.60" rx="1.80" ry="1.50" fill="#F2D6D2"/>
<ellipse cx="243.00" cy="608.60" rx="1.60" ry="1.40" fill="#E88A58"/>
<path d="M237.6,617 C238.4,621.5 239.4,626 240.4,630" fill="none" stroke="#EED8DC" stroke-width="1.2" opacity="0.7"/>
<ellipse cx="242.60" cy="636.60" rx="1.60" ry="1.30" fill="#F0D8D8"/>
<text x="207.30" y="648.90" font-size="5.6" text-anchor="middle" fill="#0a0a0a" font-weight="bold" textLength="23.4" lengthAdjust="spacingAndGlyphs">shControl</text>
<text x="242.90" y="648.90" font-size="5.6" text-anchor="middle" fill="#0a0a0a" font-weight="bold" textLength="22.3" lengthAdjust="spacingAndGlyphs">shPU.1as</text>
<rect x="174.60" y="588.30" width="87.70" height="70.70" fill="none" stroke="#000" stroke-width="1.2"/>
<rect x="1.00" y="1.00" width="518.00" height="665.00" fill="none" stroke="#000" stroke-width="2"/>
</svg>
</body></html>
